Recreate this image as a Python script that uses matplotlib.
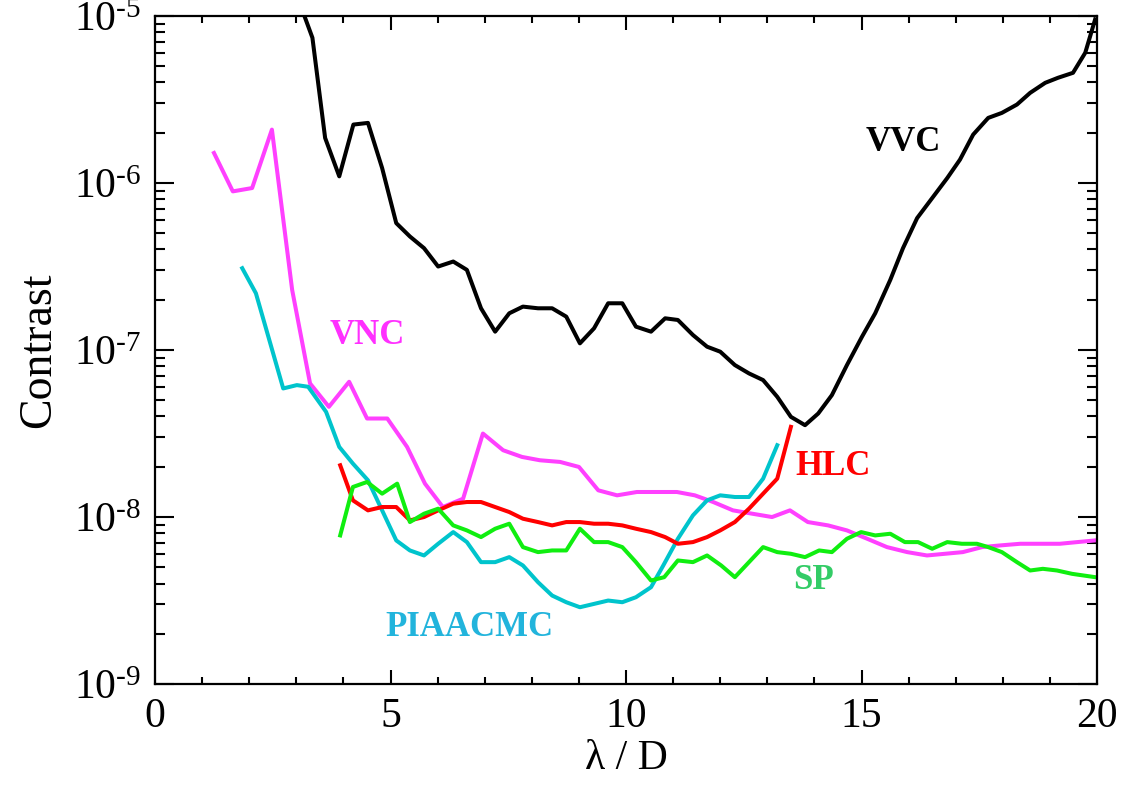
import numpy as np
import matplotlib
matplotlib.use("Agg")
import matplotlib.pyplot as plt
from matplotlib.ticker import LogLocator, MultipleLocator, FixedLocator, NullFormatter

plt.rcParams['font.family'] = ['Liberation Serif', 'DejaVu Serif']
plt.rcParams['mathtext.fontset'] = 'stix'

vvc_x = [3.04, 3.34, 3.61, 3.91, 4.21, 4.52, 4.82, 5.12, 5.41, 5.71, 6.01, 6.33, 6.62, 6.92, 7.22,
         7.52, 7.81, 8.13, 8.43, 8.73, 9.02, 9.32, 9.62, 9.92, 10.21, 10.53, 10.83, 11.10, 11.42,
         11.72, 12.0, 12.31, 12.61, 12.91, 13.21, 13.50, 13.80, 14.08, 14.37, 14.69, 15.01, 15.29,
         15.61, 15.88, 16.18, 16.50, 16.82, 17.09, 17.37, 17.69, 17.98, 18.30, 18.58, 18.90, 19.17,
         19.49, 19.75, 19.96]
vvc_log = [-4.9, -5.13, -5.73, -5.96, -5.65, -5.64, -5.91, -6.24, -6.32, -6.39, -6.50, -6.47, -6.52,
           -6.75, -6.89, -6.78, -6.74, -6.75, -6.75, -6.80, -6.96, -6.87, -6.72, -6.72, -6.86, -6.89,
           -6.81, -6.82, -6.91, -6.98, -7.01, -7.09, -7.14, -7.18, -7.28, -7.40, -7.45, -7.38, -7.27,
           -7.09, -6.92, -6.78, -6.58, -6.39, -6.21, -6.09, -5.97, -5.86, -5.71, -5.61, -5.58, -5.53,
           -5.46, -5.40, -5.37, -5.34, -5.22, -5.02]

vnc_x = [1.25, 1.65, 2.06, 2.48, 2.91, 3.29, 3.69, 4.12, 4.50, 4.93, 5.35, 5.73, 6.11, 6.54, 6.96,
         7.39, 7.79, 8.17, 8.60, 9.00, 9.41, 9.81, 10.23, 10.66, 11.08, 11.46, 11.85, 12.27, 12.68,
         13.10, 13.48, 13.86, 14.29, 14.69, 15.12, 15.54, 15.97, 16.39, 16.77, 17.15, 17.56, 17.94,
         18.37, 18.79, 19.21, 19.58, 19.96]
vnc_log = [-5.82, -6.05, -6.03, -5.68, -6.64, -7.20, -7.34, -7.19, -7.41, -7.41, -7.58, -7.80, -7.94,
           -7.89, -7.50, -7.60, -7.64, -7.66, -7.67, -7.70, -7.84, -7.87, -7.85, -7.85, -7.85, -7.87,
           -7.91, -7.96, -7.98, -8.00, -7.96, -8.03, -8.05, -8.08, -8.13, -8.18, -8.21, -8.23, -8.22,
           -8.21, -8.18, -8.17, -8.16, -8.16, -8.16, -8.15, -8.14]

piaa_x = [1.85, 2.14, 2.72, 3.01, 3.25, 3.63, 3.91, 4.20, 4.52, 4.82, 5.12, 5.41, 5.71, 6.01, 6.33,
          6.62, 6.92, 7.22, 7.52, 7.81, 8.13, 8.43, 8.73, 9.02, 9.32, 9.62, 9.92, 10.21, 10.53, 10.79,
          11.10, 11.42, 11.72, 12.0, 12.31, 12.61, 12.91, 13.21]
piaa_log = [-6.51, -6.66, -7.23, -7.21, -7.22, -7.37, -7.58, -7.68, -7.78, -7.96, -8.14, -8.20, -8.23,
            -8.16, -8.09, -8.15, -8.27, -8.27, -8.24, -8.29, -8.39, -8.47, -8.51, -8.54, -8.52, -8.50,
            -8.51, -8.48, -8.42, -8.29, -8.13, -7.99, -7.90, -7.87, -7.88, -7.88, -7.77, -7.57]

hlc_x = [3.93, 4.20, 4.52, 4.82, 5.12, 5.41, 5.71, 6.01, 6.33, 6.62, 6.92, 7.22, 7.52, 7.81, 8.13,
         8.43, 8.73, 9.02, 9.32, 9.62, 9.92, 10.21, 10.53, 10.83, 11.10, 11.42, 11.72, 12.0, 12.31,
         12.61, 12.91, 13.21, 13.50]
hlc_log = [-7.69, -7.90, -7.96, -7.94, -7.94, -8.02, -8.00, -7.96, -7.92, -7.91, -7.91, -7.94, -7.97,
           -8.01, -8.03, -8.05, -8.03, -8.03, -8.04, -8.04, -8.05, -8.07, -8.09, -8.12, -8.16, -8.15,
           -8.12, -8.08, -8.03, -7.95, -7.86, -7.77, -7.46]

sp_x = [3.93, 4.20, 4.50, 4.82, 5.14, 5.41, 5.71, 6.01, 6.33, 6.62, 6.92, 7.22, 7.52, 7.81, 8.13,
        8.43, 8.73, 9.02, 9.32, 9.62, 9.92, 10.21, 10.53, 10.81, 11.10, 11.42, 11.72, 12.02, 12.31,
        12.61, 12.91, 13.21, 13.50, 13.80, 14.10, 14.37, 14.69, 14.99, 15.29, 15.61, 15.92, 16.20,
        16.50, 16.82, 17.13, 17.45, 17.69, 17.98, 18.30, 18.58, 18.85, 19.15, 19.47, 19.96]
sp_log = [-8.11, -7.82, -7.79, -7.86, -7.80, -8.03, -7.98, -7.95, -8.05, -8.08, -8.12, -8.07, -8.04,
          -8.18, -8.21, -8.20, -8.20, -8.07, -8.15, -8.15, -8.18, -8.27, -8.38, -8.36, -8.26, -8.27,
          -8.23, -8.29, -8.36, -8.27, -8.18, -8.21, -8.22, -8.24, -8.20, -8.21, -8.13, -8.09, -8.11,
          -8.10, -8.15, -8.15, -8.19, -8.15, -8.16, -8.16, -8.18, -8.21, -8.27, -8.32, -8.31, -8.32,
          -8.34, -8.36]

decades = [9, 8, 7, 6, 5]

curves = [
    ("VVC", vvc_x, vvc_log, "black", "black", (15.88, -5.76)),
    ("VNC", vnc_x, vnc_log, "#ff40ff", "#ff30ff", (4.50, -6.91)),
    ("PIAACMC", piaa_x, piaa_log, "#00c4cc", "#22b4dc", (6.67, -8.66)),
    ("HLC", hlc_x, hlc_log, "#ff0000", "#ff0000", (14.39, -7.70)),
    ("SP", sp_x, sp_log, "#10ee10", "#33cc66", (13.99, -8.38)),
]

fig = plt.figure(figsize=(11.24, 8.01), dpi=100)
ax = fig.add_axes([0.138, 0.146, 0.838, 0.834])

for name, xs, ls, lc, tc, (tx, ty) in curves:
    ax.plot(xs, 10.0 ** np.array(ls), color=lc, lw=2.9)
    ax.text(tx, 10.0 ** ty, name, color=tc, fontsize=25, fontweight='bold',
            ha='center', va='center')

ax.set_yscale('log')
ax.set_xlim(0, 20)
ax.set_ylim(1e-9, 1e-5)

ax.xaxis.set_major_locator(MultipleLocator(5))
ax.xaxis.set_minor_locator(MultipleLocator(1))
ax.yaxis.set_major_locator(FixedLocator([10.0 ** -k for k in decades]))
ax.yaxis.set_minor_locator(LogLocator(base=10, subs=np.arange(2, 10)))
ax.yaxis.set_minor_formatter(NullFormatter())
# hyphen (U+2010) in the exponent, as in the original
ax.set_yticklabels([r'$\mathregular{10^{‐%d}}$' % k for k in decades])

ax.tick_params(which='both', direction='in', top=True, right=True, width=1.5,
               labelsize=30, pad=10)
ax.tick_params(axis='x', which='major', length=10)
ax.tick_params(axis='x', which='minor', length=5)
ax.tick_params(axis='y', which='major', length=14)
ax.tick_params(axis='y', which='minor', length=7)
for s in ax.spines.values():
    s.set_linewidth(1.6)

ax.set_xlabel('λ / D', fontsize=30, labelpad=2)
ax.set_ylabel('Contrast', fontsize=33, labelpad=10)

fig.savefig('out.png', dpi=100)
